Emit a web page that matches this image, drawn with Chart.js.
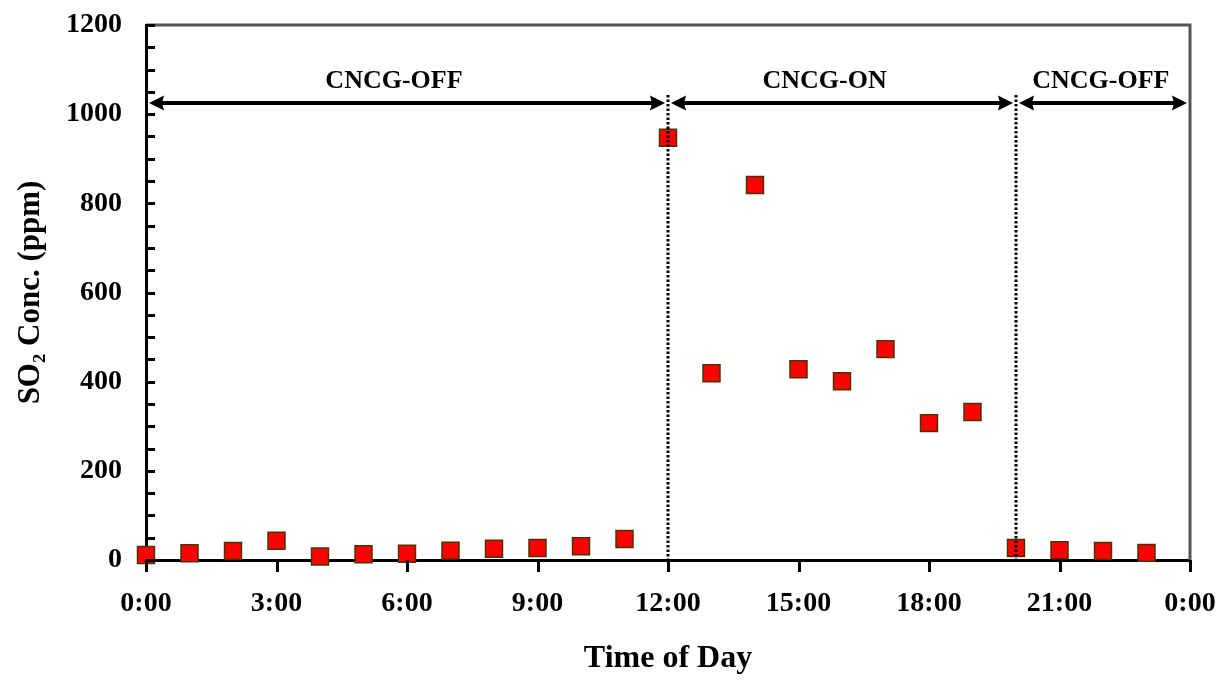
<!DOCTYPE html>
<html>
<head>
<meta charset="utf-8">
<title>SO2 Conc. vs Time of Day</title>
<script src="https://cdn.jsdelivr.net/npm/chart.js@4/dist/chart.umd.min.js"></script>
<style>
  html, body { margin: 0; padding: 0; background: #fff; }
  #wrap { width: 1223px; height: 680px; }
</style>
</head>
<body>
<div id="wrap"><canvas id="grafSO2" width="1223" height="680"></canvas></div>
<script>
// hora del día (h) y SO2 (ppm)
const hours = [0, 1, 2, 3, 4, 5, 6, 7, 8, 9, 10, 11, 12, 13, 14, 15, 16, 17, 18, 19, 20, 21, 22, 23];
const so2 = [11, 15, 20, 43, 8, 13, 14, 21, 25, 27, 31, 47, 947, 419, 841, 428, 401, 473, 307, 332, 27, 22, 20, 16];

// fases CNCG
const phaseStart = [0, 12, 20];
const phaseEnd = [12, 20, 24];
const phaseLabels = ["CNCG-OFF", "CNCG-ON", "CNCG-OFF"];
const phaseLabelX = [5.7, 15.6, 21.95];
const dividers = [12, 20];

const xTicks = [0, 3, 6, 9, 12, 15, 18, 21, 24];

const arrowY = 1025;
const labelY = 1074;
const dividerTop = 1043;

const yMinorStep = 50;

const FONT = "'Liberation Serif', 'Times New Roman', serif";

const decor = {
  id: "decor",
  afterDatasetsDraw(chart) {
    const { ctx, chartArea: a, scales: { x, y } } = chart;
    ctx.save();

    // marco superior y derecho (gris)
    ctx.strokeStyle = "#555";
    ctx.lineWidth = 3;
    ctx.beginPath();
    ctx.moveTo(a.left, a.top);
    ctx.lineTo(a.right, a.top);
    ctx.lineTo(a.right, a.bottom);
    ctx.stroke();

    // ticks hacia adentro en el eje Y
    ctx.strokeStyle = "#000";
    ctx.lineWidth = 3;
    for (let v = y.min; v <= y.max; v += yMinorStep) {
      const py = Math.round(y.getPixelForValue(v)) + 0.5;
      ctx.beginPath();
      ctx.moveTo(a.left, py);
      ctx.lineTo(a.left + 9, py);
      ctx.stroke();
    }

    // ticks hacia afuera en el eje X
    x.ticks.forEach((t) => {
      const px = Math.round(x.getPixelForValue(t.value)) + 0.5;
      ctx.beginPath();
      ctx.moveTo(px, a.bottom);
      ctx.lineTo(px, a.bottom + 12);
      ctx.stroke();
    });

    // líneas punteadas
    ctx.setLineDash([2.5, 2]);
    ctx.lineWidth = 3;
    dividers.forEach((d) => {
      const px = x.getPixelForValue(d);
      ctx.beginPath();
      ctx.moveTo(px, y.getPixelForValue(dividerTop));
      ctx.lineTo(px, y.getPixelForValue(0));
      ctx.stroke();
    });
    ctx.setLineDash([]);

    // flechas dobles
    const py = y.getPixelForValue(arrowY);
    const head = 15, half = 7.5;
    ctx.fillStyle = "#000";
    ctx.lineWidth = 4;
    phaseStart.forEach((s, i) => {
      const x0 = x.getPixelForValue(s) + 3;
      const x1 = x.getPixelForValue(phaseEnd[i]) - 3;
      ctx.beginPath();
      ctx.moveTo(x0 + head - 2, py);
      ctx.lineTo(x1 - head + 2, py);
      ctx.stroke();
      ctx.beginPath();
      ctx.moveTo(x0, py);
      ctx.lineTo(x0 + head, py - half);
      ctx.lineTo(x0 + head - 2, py);
      ctx.lineTo(x0 + head, py + half);
      ctx.closePath();
      ctx.fill();
      ctx.beginPath();
      ctx.moveTo(x1, py);
      ctx.lineTo(x1 - head, py - half);
      ctx.lineTo(x1 - head + 2, py);
      ctx.lineTo(x1 - head, py + half);
      ctx.closePath();
      ctx.fill();
    });

    // etiquetas de fase
    ctx.font = "bold 26px " + FONT;
    ctx.textAlign = "center";
    ctx.textBaseline = "middle";
    phaseLabels.forEach((t, i) => {
      ctx.fillText(t, x.getPixelForValue(phaseLabelX[i]), y.getPixelForValue(labelY));
    });

    ctx.restore();
  },
};

new Chart(document.getElementById("grafSO2").getContext("2d"), {
  type: "scatter",
  data: {
    datasets: [
      {
        label: "SO2",
        data: hours.map((h, i) => ({ x: h, y: so2[i] })),
        pointStyle: "rect",
        pointRadius: 12,
        pointHoverRadius: 12,
        backgroundColor: "#ff0000",
        borderColor: "#4a3300",
        borderWidth: 1.5,
        clip: false,
      },
    ],
  },
  options: {
    responsive: false,
    animation: false,
    layout: { autoPadding: false, padding: { top: 25, right: 33, left: 0, bottom: 0 } },
    plugins: { legend: { display: false }, tooltip: { enabled: false } },
    scales: {
      x: {
        type: "linear",
        min: 0,
        max: 24,
        afterFit: (s) => { s.height = 120; },
        afterBuildTicks: (s) => {
          s.ticks = xTicks.map((v) => ({ value: v }));
        },
        ticks: {
          autoSkip: false,
          maxRotation: 0,
          padding: 0,
          color: "#000",
          font: { family: FONT, size: 28, weight: "bold" },
          callback: (v) => (v % 24) + ":00",
        },
        grid: { display: false, drawTicks: true, tickLength: 27 },
        border: { display: true, color: "#000", width: 3 },
        title: {
          display: true,
          text: "Time of Day",
          color: "#000",
          font: { family: FONT, size: 32, weight: "bold" },
          padding: { top: 0, bottom: 2 },
        },
      },
      y: {
        min: 0,
        max: 1200,
        afterFit: (s) => { s.width = 146; },
        ticks: {
          stepSize: 200,
          padding: 0,
          color: "#000",
          font: { family: FONT, size: 28, weight: "bold" },
          callback: (v) => String(v),
        },
        grid: { display: false, drawTicks: true, tickLength: 24 },
        border: { display: true, color: "#000", width: 3 },
        title: {
          display: true,
          text: "SO₂ Conc. (ppm)",
          color: "#000",
          font: { family: FONT, size: 31, weight: "bold" },
          padding: { top: 12, bottom: 0 },
        },
      },
    },
  },
  plugins: [decor],
});
</script>
</body>
</html>
